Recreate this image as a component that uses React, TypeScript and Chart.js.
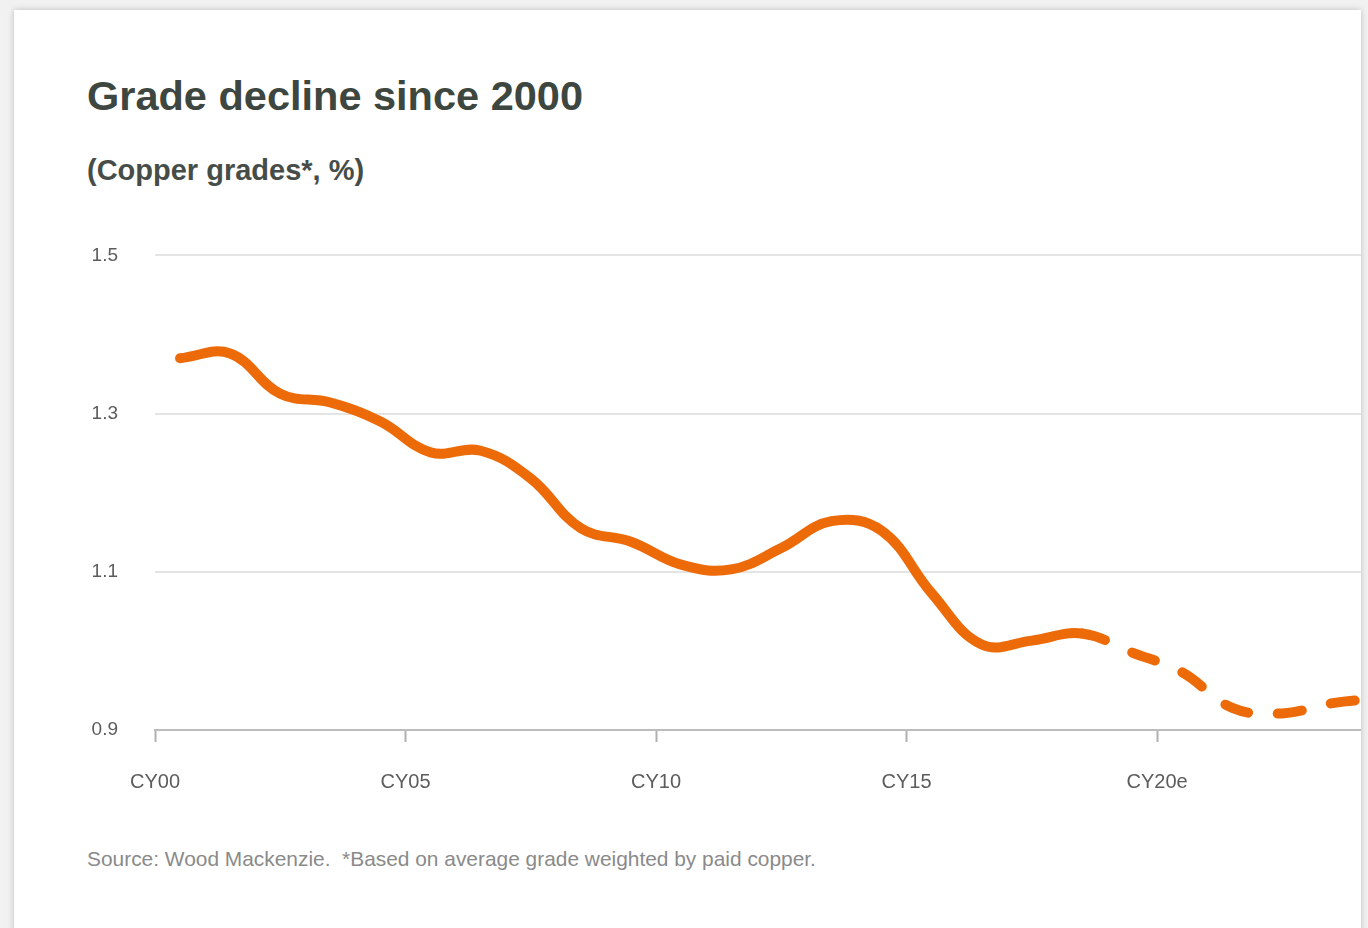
import React, { useEffect, useRef } from "react";
import { Chart, registerables } from "chart.js";

Chart.register(...registerables);

const years = [2000, 2001, 2002, 2003, 2004, 2005, 2006, 2007, 2008, 2009, 2010, 2011, 2012, 2013, 2014, 2015, 2016, 2017, 2018, 2019, 2020, 2021, 2022, 2023, 2024];
const grades = [1.370, 1.376, 1.325, 1.314, 1.290, 1.251, 1.253, 1.218, 1.155, 1.138, 1.109, 1.103, 1.130, 1.164, 1.152, 1.073, 1.008, 1.013, 1.022, 0.998, 0.973, 0.928, 0.921, 0.934, 0.940];
const forecastFromIndex = 18;
const tickYears = [2000, 2005, 2010, 2015, 2020];
const tickLabels = ["CY00", "CY05", "CY10", "CY15", "CY20e"];
const yTicks = [0.9, 1.1, 1.3, 1.5];

const FONT = "'Liberation Sans', Arial, sans-serif";

export default function App() {
  const ref = useRef<HTMLCanvasElement | null>(null);

  useEffect(() => {
    if (!ref.current) return;
    const points = years.map((y, i) => ({ x: y - 2000 + 0.5, y: grades[i] }));
    const chart = new Chart(ref.current, {
      type: "line",
      data: {
        datasets: [
          {
            data: points,
            borderColor: "#ec6a08",
            borderWidth: 10,
            borderCapStyle: "round",
            borderJoinStyle: "round",
            pointRadius: 0,
            tension: 0.4,
            fill: false,
            segment: {
              borderDash: (ctx: any) => (ctx.p0DataIndex >= forecastFromIndex ? [24, 30] : undefined),
            },
          },
        ],
      },
      options: {
        animation: false,
        responsive: false,
        maintainAspectRatio: false,
        layout: { padding: { top: 0, right: 0, left: 0, bottom: 0 } },
        plugins: { legend: { display: false }, tooltip: { enabled: false } },
        scales: {
          x: {
            type: "linear",
            min: 0,
            max: 24.07,
            afterBuildTicks: (scale: any) => {
              scale.ticks = tickYears.map((y) => ({ value: y - 2000 }));
            },
            afterFit: (scale: any) => {
              scale.height = 90;
            },
            ticks: {
              autoSkip: false,
              maxRotation: 0,
              padding: 28,
              color: "#5c5c5c",
              font: { family: FONT, size: 20 },
              callback: (v: any) => {
                const idx = tickYears.indexOf(Number(v) + 2000);
                return idx >= 0 ? tickLabels[idx] : "";
              },
            },
            grid: {
              drawOnChartArea: false,
              drawTicks: true,
              tickLength: 12,
              tickColor: "#b0b0b0",
              tickWidth: 2,
            },
            border: { display: true, color: "#bcbcbc", width: 2 },
          },
          y: {
            type: "linear",
            min: 0.9,
            max: 1.5,
            afterBuildTicks: (scale: any) => {
              scale.ticks = yTicks.map((v) => ({ value: v }));
            },
            afterFit: (scale: any) => {
              scale.width = 95;
            },
            ticks: {
              padding: 37,
              color: "#5c5c5c",
              font: { family: FONT, size: 19 },
              callback: (v: any) => Number(v).toFixed(1),
            },
            grid: {
              color: "#e4e4e4",
              lineWidth: 2,
              drawTicks: false,
            },
            border: { display: false },
          },
        },
      },
    });
    return () => chart.destroy();
  }, []);

  return (
    <div style={{ position: "fixed", left: 0, top: 0, width: 1368, height: 928, background: "#f1f1f1", overflow: "hidden" }}>
      <div
        style={{
          position: "absolute",
          left: 14,
          top: 10,
          width: 1347,
          height: 960,
          background: "#ffffff",
          boxShadow: "0 0 6px rgba(0,0,0,0.22)",
        }}
      >
        <div
          style={{
            position: "absolute",
            left: 73,
            top: 62,
            fontFamily: FONT,
            fontWeight: 700,
            fontSize: 41.5,
            color: "#3e4640",
            whiteSpace: "nowrap",
          }}
        >
          Grade decline since 2000
        </div>
        <div
          style={{
            position: "absolute",
            left: 73,
            top: 144,
            fontFamily: FONT,
            fontWeight: 700,
            fontSize: 29,
            color: "#464d48",
            whiteSpace: "nowrap",
          }}
        >
          (Copper grades*, %)
        </div>
        <canvas
          ref={ref}
          width={1301}
          height={613}
          style={{ position: "absolute", left: 46, top: 197, width: 1301, height: 613 }}
        />
        <div
          style={{
            position: "absolute",
            left: 73,
            top: 837,
            fontFamily: FONT,
            fontSize: 20.9,
            color: "#8a8a8a",
            whiteSpace: "pre",
          }}
        >
          {"Source: Wood Mackenzie.  *Based on average grade weighted by paid copper."}
        </div>
      </div>
    </div>
  );
}
